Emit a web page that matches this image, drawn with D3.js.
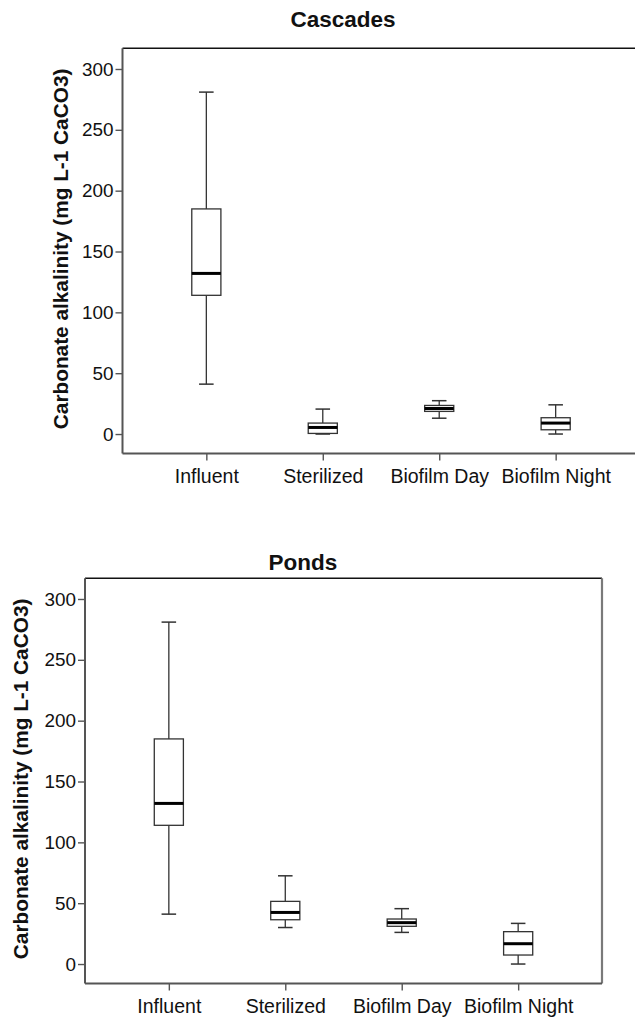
<!DOCTYPE html>
<html>
<head>
<meta charset="utf-8">
<script src="https://cdn.jsdelivr.net/npm/d3@7"></script>
<style>
  html, body { margin: 0; padding: 0; background: #fff; }
  svg { display: block; font-family: "Liberation Sans", Arial, sans-serif; }
</style>
</head>
<body>
<svg id="chart" width="635" height="1021"></svg>
<script>
// Carbonate alkalinity by treatment, five-number summaries per box
const categories = ["Influent", "Sterilized", "Biofilm Day", "Biofilm Night"];
const yTicks = [0, 50, 100, 150, 200, 250, 300];

const cascadesMin    = [41, 0, 13, 0];
const cascadesQ1     = [114, 0.5, 18.6, 3.5];
const cascadesMedian = [132, 5.4, 21, 9];
const cascadesQ3     = [185, 9, 23.5, 13.4];
const cascadesMax    = [281, 20.5, 27.4, 24];

const pondsMin    = [41, 30, 26, 0];
const pondsQ1     = [114, 36.4, 31, 7.4];
const pondsMedian = [132, 42.4, 34, 16.7];
const pondsQ3     = [185, 51.5, 37, 26.6];
const pondsMax    = [281, 72.5, 45.5, 33.4];

const yLabel = "Carbonate alkalinity (mg L-1 CaCO3)";

function rows(mins, q1s, meds, q3s, maxs) {
  return categories.map((c, i) => ({
    cat: c, min: mins[i], q1: q1s[i], med: meds[i], q3: q3s[i], max: maxs[i]
  }));
}

const panels = [
  { title: "Cascades", data: rows(cascadesMin, cascadesQ1, cascadesMedian, cascadesQ3, cascadesMax),
    left: 122.5, top: 48.3, titleX: 343, titleY: 26.7, labelX: 68 },
  { title: "Ponds", data: rows(pondsMin, pondsQ1, pondsMedian, pondsQ3, pondsMax),
    left: 85, top: 578.3, titleX: 303, titleY: 570, labelX: 28 }
];

const W = 517, H = 405.2;
const svg = d3.select("#chart");

panels.forEach(p => {
  const g = svg.append("g");

  const x = d3.scalePoint().domain(categories)
    .range([p.left, p.left + W]).padding(0.72);
  const y = d3.scaleLinear().domain([-16, 317])
    .range([p.top + H, p.top]);

  const boxW = x.step() * 0.25;
  const capW = boxW * 0.5;

  // Frame: dark top edge, grey right edge
  g.append("line")
    .attr("x1", p.left).attr("x2", p.left + W)
    .attr("y1", p.top).attr("y2", p.top)
    .attr("stroke", "#111").attr("stroke-width", 1.6);
  g.append("line")
    .attr("x1", p.left + W).attr("x2", p.left + W)
    .attr("y1", p.top).attr("y2", p.top + H)
    .attr("stroke", "#7a7a7a").attr("stroke-width", 2.2);

  // Y axis
  const yAxis = d3.axisLeft(y).tickValues(yTicks).tickSize(7).tickPadding(2)
    .tickFormat(d3.format("d"));
  const ya = g.append("g")
    .attr("transform", `translate(${p.left},0)`)
    .call(yAxis);
  ya.select(".domain").remove();
  ya.selectAll(".tick line").attr("stroke", "#555").attr("stroke-width", 1.4);
  ya.selectAll(".tick text")
    .attr("fill", "#111")
    .style("font-size", "18.9px")
    .style("font-family", "'Liberation Sans', Arial, sans-serif");
  g.append("line")
    .attr("x1", p.left).attr("x2", p.left)
    .attr("y1", p.top).attr("y2", p.top + H)
    .attr("stroke", "#555").attr("stroke-width", 2);

  // X axis
  const xAxis = d3.axisBottom(x).tickSize(7).tickPadding(9);
  const xa = g.append("g")
    .attr("transform", `translate(0,${p.top + H})`)
    .call(xAxis);
  xa.select(".domain").remove();
  xa.selectAll(".tick line").attr("stroke", "#555").attr("stroke-width", 1.4);
  xa.selectAll(".tick text")
    .attr("fill", "#111")
    .style("font-size", "19.5px")
    .style("font-family", "'Liberation Sans', Arial, sans-serif");
  g.append("line")
    .attr("x1", p.left).attr("x2", p.left + W)
    .attr("y1", p.top + H).attr("y2", p.top + H)
    .attr("stroke", "#555").attr("stroke-width", 2);

  // Title
  g.append("text")
    .attr("x", p.titleX).attr("y", p.titleY)
    .attr("text-anchor", "middle")
    .style("font-size", "22.5px").style("font-weight", "bold")
    .attr("fill", "#111")
    .text(p.title);

  // Y axis title
  g.append("text")
    .attr("transform", `translate(${p.labelX},${p.top + H / 2 - 2}) rotate(-90)`)
    .attr("text-anchor", "middle")
    .style("font-size", "20.8px").style("font-weight", "bold")
    .attr("fill", "#111")
    .text(yLabel);

  // Boxes
  const b = g.selectAll(".box").data(p.data).enter().append("g").attr("class", "box");
  const stroke = "#333";

  // whiskers
  b.append("line")
    .attr("x1", d => x(d.cat)).attr("x2", d => x(d.cat))
    .attr("y1", d => y(d.max)).attr("y2", d => y(d.q3))
    .attr("stroke", stroke).attr("stroke-width", 1.3);
  b.append("line")
    .attr("x1", d => x(d.cat)).attr("x2", d => x(d.cat))
    .attr("y1", d => y(d.q1)).attr("y2", d => y(d.min))
    .attr("stroke", stroke).attr("stroke-width", 1.3);
  // caps
  b.append("line")
    .attr("x1", d => x(d.cat) - capW / 2).attr("x2", d => x(d.cat) + capW / 2)
    .attr("y1", d => y(d.max)).attr("y2", d => y(d.max))
    .attr("stroke", stroke).attr("stroke-width", 1.5);
  b.append("line")
    .attr("x1", d => x(d.cat) - capW / 2).attr("x2", d => x(d.cat) + capW / 2)
    .attr("y1", d => y(d.min)).attr("y2", d => y(d.min))
    .attr("stroke", stroke).attr("stroke-width", 1.5);
  // box
  b.append("rect")
    .attr("x", d => x(d.cat) - boxW / 2)
    .attr("y", d => y(d.q3))
    .attr("width", boxW)
    .attr("height", d => y(d.q1) - y(d.q3))
    .attr("fill", "#fff")
    .attr("stroke", stroke).attr("stroke-width", 1.3);
  // median
  b.append("line")
    .attr("x1", d => x(d.cat) - boxW / 2).attr("x2", d => x(d.cat) + boxW / 2)
    .attr("y1", d => y(d.med)).attr("y2", d => y(d.med))
    .attr("stroke", "#000").attr("stroke-width", 3);
});
</script>
</body>
</html>
